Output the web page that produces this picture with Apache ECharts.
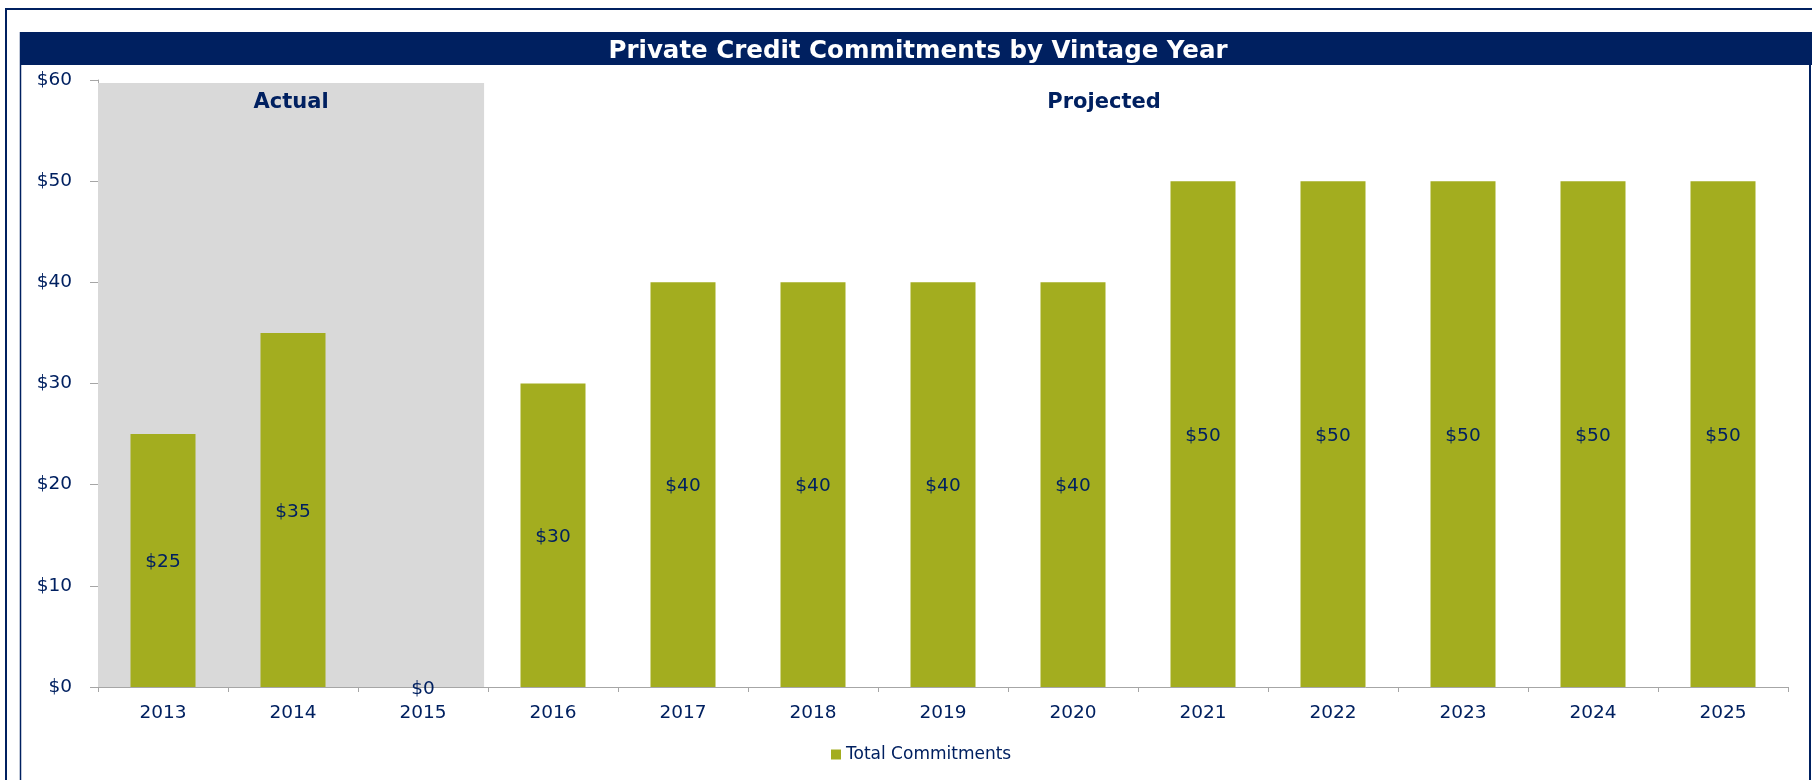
<!DOCTYPE html>
<html>
<head>
<meta charset="utf-8">
<script src="https://cdn.jsdelivr.net/npm/echarts@6/dist/echarts.min.js"></script>
<style>
  html, body { margin: 0; padding: 0; background: #ffffff; }
  #chart { width: 1812px; height: 780px; }
</style>
</head>
<body>
<div id="chart"></div>
<script>
// ---- data ----
const years = ['2013','2014','2015','2016','2017','2018','2019','2020','2021','2022','2023','2024','2025'];
const totalCommitments = [25, 35, 0, 30, 40, 40, 40, 40, 50, 50, 50, 50, 50];
const seriesName = 'Total Commitments';
const chartTitle = 'Private Credit Commitments by Vintage Year';
const yTicks = [0, 10, 20, 30, 40, 50, 60];
const actualYears = ['2013', '2014', '2015'];
const projectedYears = ['2016','2017','2018','2019','2020','2021','2022','2023','2024','2025'];
const sectionLabels = ['Actual', 'Projected'];

const NAVY = '#002060';
const OLIVE = '#A3AD1F';
const FONT = 'DejaVu Sans';

const actualStart = years.indexOf(actualYears[0]);
const actualEnd = years.indexOf(actualYears[actualYears.length - 1]) + 1;
const projStart = years.indexOf(projectedYears[0]);
const projEnd = years.indexOf(projectedYears[projectedYears.length - 1]) + 1;

const chart = echarts.init(document.getElementById('chart'), null, { renderer: 'canvas' });

const option = {
  backgroundColor: '#ffffff',
  animation: false,
  title: {
    text: chartTitle,
    left: 913,
    textAlign: 'center',
    top: 34,
    textStyle: { color: '#ffffff', fontFamily: FONT, fontWeight: 'bold', fontSize: 24.5 }
  },
  graphic: [
    { type: 'rect', z: -1, shape: { x: 20, y: 32, width: 1792, height: 33 }, style: { fill: NAVY } },
    { type: 'line', shape: { x1: 5, y1: 9, x2: 1812, y2: 9 }, style: { stroke: NAVY, lineWidth: 2 } },
    { type: 'line', shape: { x1: 6, y1: 9, x2: 6, y2: 780 }, style: { stroke: NAVY, lineWidth: 2 } },
    { type: 'line', shape: { x1: 20.5, y1: 32, x2: 20.5, y2: 780 }, style: { stroke: NAVY, lineWidth: 1.5 } },
    { type: 'line', shape: { x1: 1810, y1: 65, x2: 1810, y2: 780 }, style: { stroke: NAVY, lineWidth: 2 } }
  ],
  legend: {
    data: [seriesName],
    left: 826,
    top: 741,
    itemWidth: 10,
    itemHeight: 10,
    itemGap: 5,
    icon: 'rect',
    textStyle: { color: NAVY, fontFamily: FONT, fontSize: 17 }
  },
  grid: { left: 98, right: 24, top: 80, bottom: 93, containLabel: false },
  xAxis: [
    {
      type: 'category',
      data: years,
      boundaryGap: true,
      axisLine: { show: true, lineStyle: { color: '#A6A6A6', width: 1 } },
      axisTick: { show: true, length: 5, alignWithLabel: false, lineStyle: { color: '#A6A6A6' } },
      axisLabel: { color: NAVY, fontFamily: FONT, fontSize: 18.5, margin: 17 },
      splitLine: { show: false }
    },
    {
      type: 'value',
      min: 0,
      max: years.length,
      show: false,
      splitLine: { show: false }
    }
  ],
  yAxis: {
    type: 'value',
    min: yTicks[0],
    max: yTicks[yTicks.length - 1],
    interval: yTicks[1] - yTicks[0],
    axisLine: { show: true, lineStyle: { color: '#A6A6A6', width: 1 } },
    axisTick: { show: true, length: 8, lineStyle: { color: '#A6A6A6' } },
    axisLabel: { color: NAVY, fontFamily: FONT, fontSize: 18.5, margin: 26, formatter: v => '$' + v },
    splitLine: { show: false }
  },
  series: [
    {
      name: 'sections',
      type: 'line',
      xAxisIndex: 1,
      yAxisIndex: 0,
      data: [],
      silent: true,
      markArea: {
        silent: true,
        data: [
          [
            { xAxis: actualStart, yAxis: 59.7, itemStyle: { color: '#D9D9D9' },
              label: { show: true, position: 'insideTop', distance: 9, formatter: sectionLabels[0],
                       color: NAVY, fontFamily: FONT, fontWeight: 'bold', fontSize: 21 } },
            { xAxis: actualEnd - 0.03, yAxis: 0 }
          ],
          [
            { xAxis: projStart, yAxis: 59.7, itemStyle: { color: 'rgba(0,0,0,0)' },
              label: { show: true, position: 'insideTop', distance: 9, offset: [-34, 0], formatter: sectionLabels[1],
                       color: NAVY, fontFamily: FONT, fontWeight: 'bold', fontSize: 21 } },
            { xAxis: projEnd, yAxis: 0 }
          ]
        ]
      }
    },
    {
      name: seriesName,
      type: 'bar',
      xAxisIndex: 0,
      yAxisIndex: 0,
      data: totalCommitments,
      barWidth: '50%',
      itemStyle: { color: OLIVE },
      label: {
        show: true,
        position: 'inside',
        offset: [0, 2],
        formatter: p => '$' + p.value,
        color: NAVY,
        fontFamily: FONT,
        fontSize: 18.5
      }
    }
  ]
};

chart.setOption(option);
</script>
</body>
</html>
